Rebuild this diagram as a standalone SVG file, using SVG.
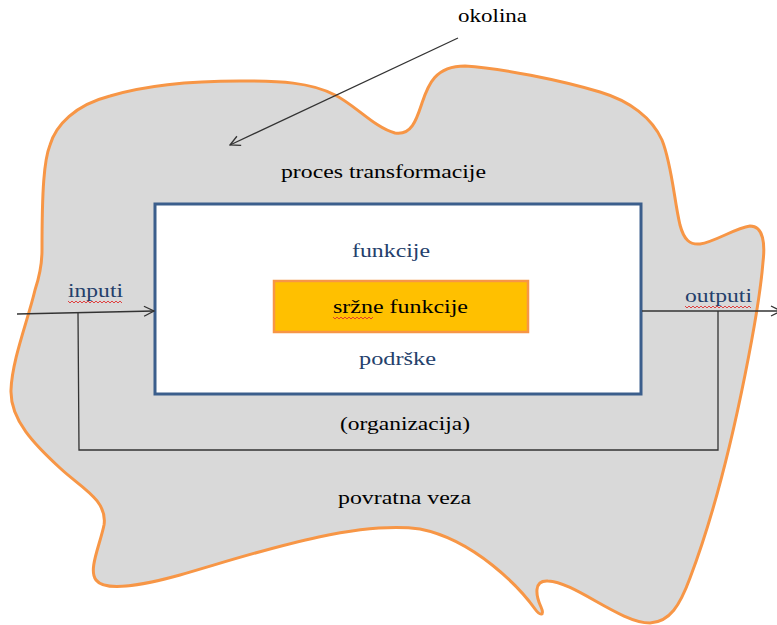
<svg xmlns="http://www.w3.org/2000/svg" width="777" height="625" viewBox="0 0 777 625">
<defs>
<style>
.blob{fill:#D9D9D9;stroke:#F79646;stroke-width:3;stroke-linejoin:round}
.main{fill:#FFFFFF;stroke:#3B5E8C;stroke-width:3}
.core{fill:#FFC000;stroke:#F79646;stroke-width:2.5}
.conn{fill:none;stroke:#333333;stroke-width:1.3}
text{font-family:'Liberation Serif','DejaVu Serif','Times New Roman',serif;font-size:18px;fill:#000000}
.b{fill:#24406B}
.wavy{fill:none;stroke:#E03030;stroke-width:0.9}
</style>
<marker id="arr" viewBox="0 0 12 12" refX="11" refY="6" markerWidth="12" markerHeight="12" markerUnits="userSpaceOnUse" orient="auto">
<polyline points="1,1 11,6 1,11" fill="none" stroke="#333333" stroke-width="1.3"/>
</marker>
</defs>
<rect width="777" height="625" fill="#FFFFFF"/>
<g id="okolina">
<path class="blob" d="M 42,250 C 42,190 44,160 50,145 C 56,125 75,105 110,96 C 150,84 200,81 240,81 C 280,81 310,82 335,95 C 355,105 375,128 395,133 C 412,136 417,118 422,103 C 428,85 435,66 465,66 C 500,68 560,80 600,92 C 630,101 652,118 662,140 C 672,165 674,200 680,225 C 684,240 690,245 700,244 C 715,242 735,228 750,226 C 764,226 765,245 763,262 C 760,300 752,340 745,375 C 730,450 712,520 690,578 C 680,605 670,622 650,623 C 620,623 575,582 548,581 C 533,580 536,596 541,607 C 545,616 540,616 535,609 C 520,588 475,540 420,529 C 350,520 250,555 180,575 C 140,586 105,592 96,580 C 88,570 100,545 104,525 C 108,500 80,487 60,468 C 35,445 10,420 11,390 C 12,360 28,320 35,290 C 40,275 42,262 42,250 Z"/>
<text x="458" y="22" textLength="69" lengthAdjust="spacingAndGlyphs">okolina</text>
<text x="281" y="178" textLength="205" lengthAdjust="spacingAndGlyphs">proces transformacije</text>
<text x="340" y="430" textLength="130" lengthAdjust="spacingAndGlyphs">(organizacija)</text>
<text x="338" y="504" textLength="133" lengthAdjust="spacingAndGlyphs">povratna veza</text>
</g>
<g id="organizacija">
<rect class="main" x="155" y="204" width="486" height="190"/>
<text class="b" x="352" y="257" textLength="78" lengthAdjust="spacingAndGlyphs">funkcije</text>
<text class="b" x="359" y="365" textLength="77" lengthAdjust="spacingAndGlyphs">podrške</text>
</g>
<g id="srzne-funkcije">
<rect class="core" x="274" y="281" width="254" height="51"/>
<text x="333" y="313" textLength="135" lengthAdjust="spacingAndGlyphs">sržne funkcije</text>
<path class="wavy" d="M 333,317 l 2,2 l 2,-2 l 2,2 l 2,-2 l 2,2 l 2,-2 l 2,2 l 2,-2 l 2,2 l 2,-2 l 2,2 l 2,-2 l 2,2 l 2,-2 l 2,2 l 2,-2 l 2,2 l 2,-2 l 2,2 l 2,-2"/>
</g>
<g id="inputi">
<text class="b" x="68" y="297" textLength="55" lengthAdjust="spacingAndGlyphs">inputi</text>
<path class="wavy" d="M 68,301 l 2,2 l 2,-2 l 2,2 l 2,-2 l 2,2 l 2,-2 l 2,2 l 2,-2 l 2,2 l 2,-2 l 2,2 l 2,-2 l 2,2 l 2,-2 l 2,2 l 2,-2 l 2,2 l 2,-2 l 2,2 l 2,-2 l 2,2 l 2,-2 l 2,2 l 2,-2 l 2,2 l 2,-2 l 2,2"/>
</g>
<g id="outputi">
<text class="b" x="685" y="302" textLength="67" lengthAdjust="spacingAndGlyphs">outputi</text>
<path class="wavy" d="M 685,306 l 2,2 l 2,-2 l 2,2 l 2,-2 l 2,2 l 2,-2 l 2,2 l 2,-2 l 2,2 l 2,-2 l 2,2 l 2,-2 l 2,2 l 2,-2 l 2,2 l 2,-2 l 2,2 l 2,-2 l 2,2 l 2,-2 l 2,2 l 2,-2 l 2,2 l 2,-2 l 2,2 l 2,-2 l 2,2 l 2,-2 l 2,2 l 2,-2 l 2,2 l 2,-2 l 2,2"/>
</g>
<g id="connectors">
<line class="conn" x1="458" y1="38" x2="230" y2="145" marker-end="url(#arr)"/>
<line class="conn" x1="17" y1="314" x2="154" y2="311" marker-end="url(#arr)"/>
<line class="conn" x1="642" y1="311" x2="781" y2="311" marker-end="url(#arr)"/>
<polyline class="conn" points="78,313 79,450 718,450 718,311"/>
</g>
</svg>
